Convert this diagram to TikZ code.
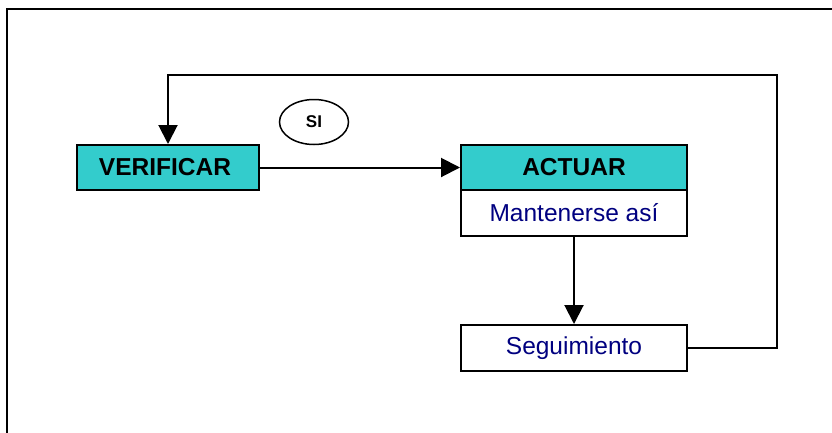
\documentclass[tikz,border=0pt]{standalone}
\usepackage{fontspec}
\setmainfont{Liberation Sans}
\usetikzlibrary{arrows.meta,shapes.geometric}
\definecolor{tealfill}{HTML}{33CCCC}
\definecolor{navytext}{HTML}{000080}
\tikzset{
  box/.style={draw=black,line width=2pt,rectangle,minimum width=226pt,minimum height=45pt,inner sep=0pt,font=\fontsize{24.5}{28}\selectfont},
  headbox/.style={box,fill=tealfill,font=\fontsize{24.5}{28}\selectfont\bfseries},
  subbox/.style={box,fill=white,text=navytext},
  conn/.style={line width=2pt,-{Triangle[length=19pt,width=19pt]}},
}
\begin{document}
\begin{tikzpicture}[x=1pt,y=-1pt]
\useasboundingbox (0,0) rectangle (832,432);
\draw[line width=2pt,line cap=rect] (7,432) -- (7,9) -- (832,9);
\node[headbox,minimum width=182pt,minimum height=45pt] (verif) at (168,167.5) {VERIFICAR\hspace*{6pt}};
\node[headbox] (actuar) at (574,167.5) {ACTUAR};
\node[subbox,minimum height=46pt] (mant) at (574,213) {Mantenerse así};
\node[subbox,minimum height=46pt] (seg) at (574,348) {Seguimiento};
\node[draw,ellipse,line width=1.5pt,minimum width=69pt,minimum height=45pt,inner sep=0pt,font=\fontsize{17}{20}\selectfont\bfseries] (si) at (314,122) {SI};
\coordinate (rc) at (777,75);
\draw[conn] (verif.east) -- (actuar.west);
\draw[conn] (mant.south) -- (seg.north);
\draw[conn] (seg.east) -| (rc) -| (verif.north);
\end{tikzpicture}
\end{document}
